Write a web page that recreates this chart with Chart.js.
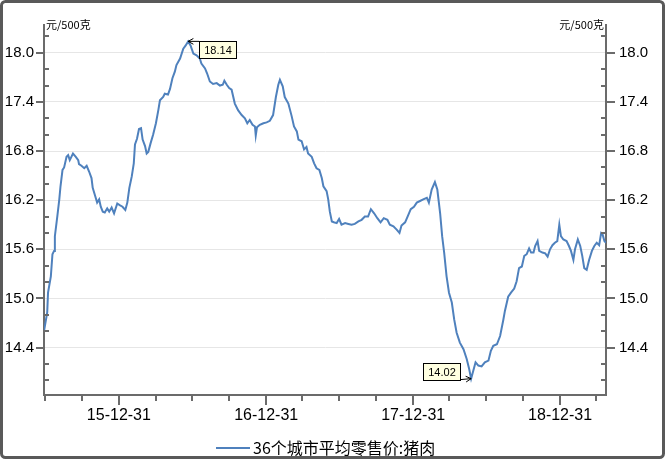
<!DOCTYPE html>
<html><head><meta charset="utf-8">
<script src="https://cdn.jsdelivr.net/npm/chart.js@4/dist/chart.umd.min.js"></script>
<style>html,body{margin:0;padding:0;background:#fff;}canvas{display:block;}</style>
</head><body>
<canvas id="c" width="665" height="459"></canvas>
<script>
const seriesName = '36个城市平均零售价:猪肉';
const unitLabel = '元/500克';
const dates = [
'2015-06-28','2015-07-06','2015-07-08','2015-07-15','2015-07-19','2015-07-23','2015-07-25','2015-07-31','2015-08-05','2015-08-08',
'2015-08-13','2015-08-17','2015-08-23','2015-08-27','2015-08-31','2015-09-08','2015-09-15','2015-09-21','2015-09-23','2015-09-29',
'2015-10-06','2015-10-12','2015-10-18','2015-10-24','2015-10-27','2015-11-01','2015-11-07','2015-11-12','2015-11-16','2015-11-21',
'2015-11-26','2015-12-02','2015-12-07','2015-12-13','2015-12-19','2015-12-27','2016-01-02','2016-01-09','2016-01-16','2016-01-21',
'2016-01-26','2016-02-01','2016-02-06','2016-02-09','2016-02-14','2016-02-19','2016-02-24','2016-02-28','2016-03-05','2016-03-09',
'2016-03-13','2016-03-19','2016-03-25','2016-04-01','2016-04-07','2016-04-11','2016-04-19','2016-04-23','2016-05-01','2016-05-06',
'2016-05-12','2016-05-18','2016-05-22','2016-05-31','2016-06-08','2016-06-14','2016-06-20','2016-06-26','2016-07-03','2016-07-11',
'2016-07-19','2016-07-23','2016-08-01','2016-08-06','2016-08-13','2016-08-21','2016-08-30','2016-09-07','2016-09-14','2016-09-18',
'2016-09-24','2016-09-30','2016-10-06','2016-10-14','2016-10-22','2016-10-31','2016-11-08','2016-11-14','2016-11-20','2016-11-27',
'2016-12-03','2016-12-05','2016-12-08','2016-12-15','2016-12-24','2017-01-01','2017-01-09','2017-01-17','2017-01-24','2017-01-30',
'2017-02-03','2017-02-10','2017-02-15','2017-02-24','2017-03-04','2017-03-10','2017-03-17','2017-03-21','2017-03-29','2017-04-04',
'2017-04-10','2017-04-14','2017-04-23','2017-04-29','2017-05-05','2017-05-12','2017-05-18','2017-05-22','2017-05-30','2017-06-03',
'2017-06-07','2017-06-12','2017-06-17','2017-06-24','2017-06-30','2017-07-06','2017-07-15','2017-07-23','2017-07-31','2017-08-08',
'2017-08-17','2017-08-25','2017-09-02','2017-09-10','2017-09-17','2017-09-25','2017-10-03','2017-10-11','2017-10-19','2017-10-28',
'2017-11-03','2017-11-12','2017-11-20','2017-11-27','2017-12-02','2017-12-11','2017-12-19','2017-12-25','2018-01-02','2018-01-09',
'2018-01-17','2018-01-25','2018-02-03','2018-02-08','2018-02-15','2018-02-23','2018-03-01','2018-03-08','2018-03-13','2018-03-18',
'2018-03-24','2018-03-30','2018-04-06','2018-04-12','2018-04-18','2018-04-26','2018-05-05','2018-05-13','2018-05-19','2018-05-24',
'2018-05-29','2018-06-04','2018-06-11','2018-06-19','2018-06-27','2018-07-06','2018-07-12','2018-07-18','2018-07-27','2018-08-04',
'2018-08-12','2018-08-16','2018-08-24','2018-08-31','2018-09-08','2018-09-14','2018-09-20','2018-09-27','2018-10-03','2018-10-09',
'2018-10-15','2018-10-20','2018-10-26','2018-10-30','2018-11-05','2018-11-09','2018-11-17','2018-11-24','2018-11-30','2018-12-06',
'2018-12-12','2018-12-18','2018-12-24','2018-12-29','2019-01-02','2019-01-08','2019-01-16','2019-01-22','2019-01-27','2019-02-02',
'2019-02-06','2019-02-13','2019-02-19','2019-02-24','2019-03-01','2019-03-07','2019-03-13','2019-03-20','2019-03-26','2019-04-01',
'2019-04-07','2019-04-12','2019-04-15','2019-04-20','2019-04-24'
];
const prices = [
14.60,14.83,15.07,15.27,15.54,15.58,15.76,16.00,16.21,16.37,
16.57,16.60,16.73,16.75,16.69,16.77,16.73,16.69,16.64,16.62,
16.59,16.62,16.55,16.47,16.35,16.27,16.17,16.21,16.12,16.06,
16.05,16.10,16.06,16.11,16.04,16.16,16.14,16.12,16.08,16.17,
16.35,16.49,16.65,16.88,16.95,17.07,17.08,16.94,16.86,16.77,
16.79,16.90,17.00,17.14,17.30,17.42,17.46,17.50,17.49,17.56,
17.69,17.77,17.85,17.93,18.05,18.09,18.14,18.09,17.99,17.97,
17.93,17.87,17.81,17.75,17.65,17.62,17.63,17.60,17.61,17.66,
17.61,17.57,17.55,17.38,17.30,17.24,17.20,17.14,17.18,17.12,
17.10,16.99,17.09,17.12,17.14,17.15,17.17,17.24,17.46,17.61,
17.67,17.59,17.46,17.38,17.23,17.10,17.04,16.94,16.92,16.82,
16.85,16.77,16.73,16.65,16.59,16.57,16.47,16.37,16.31,16.21,
16.06,15.94,15.93,15.92,15.97,15.90,15.92,15.91,15.90,15.91,
15.94,15.96,16.00,16.00,16.09,16.04,15.98,15.93,15.98,15.96,
15.90,15.88,15.84,15.80,15.89,15.93,16.02,16.09,16.12,16.17,
16.19,16.21,16.23,16.17,16.33,16.42,16.33,16.04,15.76,15.56,
15.27,15.07,14.95,14.74,14.58,14.46,14.38,14.26,14.14,14.02,
14.11,14.22,14.18,14.17,14.22,14.24,14.36,14.42,14.44,14.54,
14.74,14.85,15.02,15.07,15.12,15.21,15.37,15.39,15.52,15.54,
15.61,15.56,15.56,15.64,15.70,15.58,15.56,15.55,15.51,15.60,
15.65,15.68,15.70,15.90,15.76,15.72,15.70,15.64,15.58,15.47,
15.60,15.72,15.64,15.52,15.37,15.35,15.47,15.58,15.64,15.68,
15.65,15.80,15.79,15.70,15.68
];
const yMajorTicks = [14.4, 15.0, 15.6, 16.2, 16.8, 17.4, 18.0];
const yMinorTicks = [14.0, 14.2, 14.6, 14.8, 15.2, 15.4, 15.8, 16.0, 16.4, 16.6, 17.0, 17.2, 17.6, 17.8, 18.2];
const xMajorTicks = ['2015-12-31', '2016-12-31', '2017-12-31', '2018-12-31'];
const xMinorTicks = ['2015-06-30', '2015-09-30', '2016-03-31', '2016-06-30', '2016-09-30', '2017-03-31',
  '2017-06-30', '2017-09-30', '2018-03-31', '2018-06-30', '2018-09-30', '2019-03-31'];
const yMin = 13.82, yMax = 18.34;

const toMs = s => Date.parse(s + 'T00:00:00Z');
const pad = n => (n < 10 ? '0' : '') + n;
const fmtDate = ms => { const d = new Date(ms); return String(d.getUTCFullYear()).slice(2) + '-' + pad(d.getUTCMonth() + 1) + '-' + pad(d.getUTCDate()); };
const xMajorMs = xMajorTicks.map(toMs);
const xMinorMs = xMinorTicks.map(toMs);
const isYMajor = v => yMajorTicks.some(m => Math.abs(m - v) < 1e-6);
const points = dates.map((d, i) => ({ x: toMs(d), y: prices[i] }));

const AXIS = '#6b6b6b';
const LINE = '#4F81BD';
const TICKFONT = "'Liberation Sans', Arial, sans-serif";
const CJK = "'Noto Sans CJK SC', 'Noto Sans', sans-serif";

function yTickBuild(s) {
  s.ticks = yMajorTicks.concat(yMinorTicks).sort((a, b) => a - b).map(v => ({ value: v }));
}

const decor = {
  id: 'decor',
  afterDraw(chart) {
    const ctx = chart.ctx;
    const { left, right, top, bottom } = chart.chartArea;
    const ys = chart.scales.y, xs = chart.scales.x;
    ctx.save();
    ctx.strokeStyle = AXIS; ctx.lineWidth = 2;
    const seg = (x1, y1, x2, y2) => { ctx.beginPath(); ctx.moveTo(x1, y1); ctx.lineTo(x2, y2); ctx.stroke(); };
    yMajorTicks.forEach(v => { const p = Math.round(ys.getPixelForValue(v)); seg(left - 8, p, left, p); seg(right, p, right + 9, p); });
    yMinorTicks.forEach(v => { const p = Math.round(ys.getPixelForValue(v)); seg(left, p, left + 5, p); seg(right - 5, p, right, p); });
    xMajorMs.forEach(v => { const p = Math.round(xs.getPixelForValue(v)); seg(p, bottom, p, bottom + 10); });
    xMinorMs.forEach(v => { const p = Math.round(xs.getPixelForValue(v)); seg(p, bottom, p, bottom + 6); });

    // unit labels
    ctx.fillStyle = '#000';
    ctx.font = '11px ' + CJK;
    ctx.textBaseline = 'middle';
    ctx.textAlign = 'left'; ctx.fillText(unitLabel, left + 2, top);
    ctx.textAlign = 'right'; ctx.fillText(unitLabel, right - 2, top);

    // max / min callouts
    let iMax = 0, iMin = 0;
    prices.forEach((v, i) => { if (v > prices[iMax]) iMax = i; if (v < prices[iMin]) iMin = i; });
    const callout = (i, side) => {
      const px = xs.getPixelForValue(points[i].x), py = ys.getPixelForValue(points[i].y);
      const txt = prices[i].toFixed(2);
      ctx.font = '11px ' + TICKFONT;
      const w = 37, h = 17;
      let bx, by, ax, ay;
      if (side === 'right') { bx = px + 11; by = py; ax = bx; ay = by; }
      else { bx = px - 11 - w; by = py + 1 - h; ax = bx + w; ay = by + h; }
      ctx.strokeStyle = '#000'; ctx.lineWidth = 1;
      ctx.beginPath(); ctx.moveTo(ax, ay); ctx.lineTo(px, py); ctx.stroke();
      const ang = Math.atan2(ay - py, ax - px);
      const hl = 6;
      ctx.beginPath();
      ctx.moveTo(px + hl * Math.cos(ang + 0.5), py + hl * Math.sin(ang + 0.5));
      ctx.lineTo(px, py);
      ctx.lineTo(px + hl * Math.cos(ang - 0.5), py + hl * Math.sin(ang - 0.5));
      ctx.stroke();
      ctx.fillStyle = '#FFFFE1';
      ctx.fillRect(Math.round(bx) + 0.5, Math.round(by) + 0.5, w, h);
      ctx.strokeRect(Math.round(bx) + 0.5, Math.round(by) + 0.5, w, h);
      ctx.fillStyle = '#000'; ctx.textAlign = 'center'; ctx.textBaseline = 'middle';
      ctx.fillText(txt, Math.round(bx) + 0.5 + w / 2, Math.round(by) + 0.5 + h / 2 + 0.5);
    };
    callout(iMax, 'right');
    callout(iMin, 'left');

    // legend
    const ds = chart.data.datasets[0];
    ctx.strokeStyle = ds.borderColor; ctx.lineWidth = 2;
    seg(216, 448, 250, 448);
    ctx.fillStyle = '#000'; ctx.font = '16px ' + CJK; ctx.textAlign = 'left'; ctx.textBaseline = 'middle';
    ctx.fillText(ds.label, 253, 448);

    // outer frame
    ctx.strokeStyle = '#595959'; ctx.lineWidth = 3;
    ctx.beginPath();
    if (ctx.roundRect) ctx.roundRect(1.5, 1.5, 662, 456, 4); else ctx.rect(1.5, 1.5, 662, 456);
    ctx.stroke();
    ctx.restore();
  }
};

new Chart(document.getElementById('c'), {
  type: 'line',
  data: { datasets: [{ label: seriesName, data: points, borderColor: LINE, backgroundColor: LINE, borderWidth: 2, pointRadius: 0, tension: 0, fill: false, xAxisID: 'x', yAxisID: 'y' }] },
  options: {
    responsive: false, animation: false, devicePixelRatio: 1,
    layout: { padding: { top: 25, left: 0, right: 0, bottom: 0 } },
    plugins: { legend: { display: false }, tooltip: { enabled: false } },
    scales: {
      x: {
        type: 'linear', position: 'bottom', min: toMs(dates[0]), max: toMs(dates[dates.length - 1]),
        afterFit: s => { s.height = 64; },
        afterBuildTicks: s => { s.ticks = xMajorMs.concat(xMinorMs).sort((a, b) => a - b).map(v => ({ value: v })); },
        grid: { display: false, drawTicks: false },
        border: { display: true, color: AXIS, width: 2 },
        ticks: { autoSkip: false, maxRotation: 0, minRotation: 0, padding: 11, color: '#000', font: { size: 16, family: TICKFONT },
          callback: v => xMajorMs.includes(v) ? fmtDate(v) : '' }
      },
      y: {
        type: 'linear', position: 'left', min: yMin, max: yMax,
        afterFit: s => { s.width = 44; },
        afterBuildTicks: yTickBuild,
        grid: { drawTicks: false, lineWidth: 1, color: c => (c.tick && isYMajor(c.tick.value)) ? '#e6e6e6' : 'rgba(0,0,0,0)' },
        border: { display: true, color: AXIS, width: 2 },
        ticks: { autoSkip: false, padding: 10, color: '#000', font: { size: 15, family: TICKFONT },
          callback: v => isYMajor(v) ? v.toFixed(1) : '' }
      },
      y2: {
        type: 'linear', position: 'right', min: yMin, max: yMax,
        afterFit: s => { s.width = 59; },
        afterBuildTicks: yTickBuild,
        grid: { display: false, drawTicks: false },
        border: { display: true, color: AXIS, width: 2 },
        ticks: { autoSkip: false, padding: 13, color: '#000', font: { size: 15, family: TICKFONT },
          callback: v => isYMajor(v) ? v.toFixed(1) : '' }
      }
    }
  },
  plugins: [decor]
});
</script>
</body></html>
